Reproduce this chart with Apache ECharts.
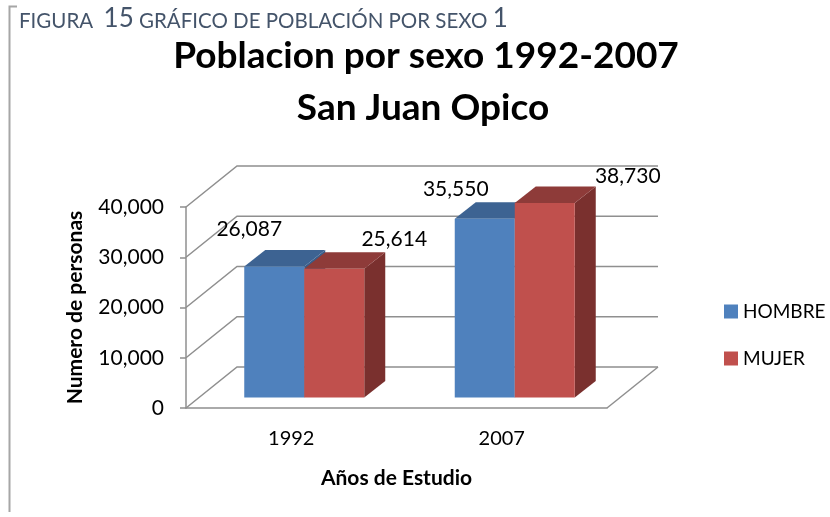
<!DOCTYPE html>
<html>
<head>
<meta charset="utf-8">
<script src="https://cdn.jsdelivr.net/npm/echarts@6/dist/echarts.min.js"></script>
<style>
html,body{margin:0;padding:0;background:#fff;}
#chart{width:830px;height:517px;}
</style>
</head>
<body>
<div id="chart"></div>
<script>
// ---- data ----
const categories = ['1992', '2007'];
const hombre = [26087, 35550];
const mujer = [25614, 38730];
const yTicks = [0, 10000, 20000, 30000, 40000];
const seriesNames = ['HOMBRE', 'MUJER'];

// ---- styles ----
const FONT = 'Lato';
const WALL = [51, -41];     // depth of the floor / back wall
const FRONT = [13, -10.5];  // bar front plane offset from front of floor
const BDEPTH = [21, -16.5]; // bar depth
const BAR_W = 60;
const colors = {
  HOMBRE: { front: '#4F81BD', top: '#3D6392', side: '#385D8A' },
  MUJER: { front: '#C0504D', top: '#8E3B39', side: '#7A302E' }
};
const labelOffsets = {
  HOMBRE: [[-25, -37], [-29, -30]],
  MUJER: [[60, -30], [83, -27]]
};
const fmt = v => v.toLocaleString('en-US');

function barRenderer(name, shift) {
  return function (params, api) {
    const i = api.value(0), v = api.value(1);
    const base = api.coord([i, 0]);
    const top = api.coord([i, v]);
    const x0 = base[0] + shift + FRONT[0];
    const x1 = x0 + BAR_W;
    const yb = base[1] + FRONT[1];
    const yt = top[1] + FRONT[1];
    const c = colors[name];
    const off = labelOffsets[name][params.dataIndex];
    return {
      type: 'group',
      children: [
        { type: 'polygon', shape: { points: [[x1, yt], [x1 + BDEPTH[0], yt + BDEPTH[1]], [x1 + BDEPTH[0], yb + BDEPTH[1]], [x1, yb]] }, style: { fill: c.side } },
        { type: 'polygon', shape: { points: [[x0, yt], [x1, yt], [x1 + BDEPTH[0], yt + BDEPTH[1]], [x0 + BDEPTH[0], yt + BDEPTH[1]]] }, style: { fill: c.top } },
        { type: 'rect', shape: { x: x0, y: yt, width: BAR_W, height: yb - yt }, style: { fill: c.front } },
        { type: 'text', x: (x0 + x1) / 2 + off[0], y: yt + off[1], style: { text: fmt(v), fill: '#000', font: '21px ' + FONT, align: 'center', verticalAlign: 'middle' } }
      ]
    };
  };
}

function wallRenderer(params, api) {
  const v = api.value(0);
  const cs = params.coordSys;
  const p = api.coord([0, v]);
  const xl = cs.x, xr = cs.x + cs.width, y = p[1];
  const ls = { stroke: '#8f8f8f', lineWidth: 1.5, fill: null };
  const children = [
    { type: 'polyline', shape: { points: [[xl, y], [xl + WALL[0], y + WALL[1]], [xr + WALL[0], y + WALL[1]]] }, style: ls }
  ];
  if (v === 0) {
    children.push({ type: 'line', shape: { x1: xr, y1: y, x2: xr + WALL[0], y2: y + WALL[1] }, style: ls });
  }
  return { type: 'group', children: children };
}

const chart = echarts.init(document.getElementById('chart'), null, { renderer: 'canvas' });
chart.setOption({
  animation: false,
  backgroundColor: '#fff',
  title: [
    { text: 'Poblacion por sexo 1992-2007', left: 421, top: 33, textAlign: 'center', textStyle: { fontFamily: FONT, fontWeight: 'bold', fontSize: 37, color: '#000' } },
    { text: 'San Juan Opico', left: 418, top: 85, textAlign: 'center', textStyle: { fontFamily: FONT, fontWeight: 'bold', fontSize: 37, color: '#000' } }
  ],
  graphic: [
    { type: 'polyline', shape: { points: [[17, 6.5], [9.5, 6.5], [9.5, 512]] }, style: { stroke: '#a6a6a6', lineWidth: 2, fill: null } },
    { type: 'text', left: 19, top: 6, style: {
      text: '{a|FIGURA  }{b|15}{a| GRÁFICO DE POBLACIÓN POR SEXO }{b|1}',
      rich: {
        a: { fontFamily: FONT, fontSize: 20.5, fill: '#44546A', color: '#44546A', verticalAlign: 'bottom' },
        b: { fontFamily: FONT, fontSize: 26, fill: '#44546A', color: '#44546A', verticalAlign: 'bottom' }
      }
    } }
  ],
  legend: {
    data: seriesNames,
    orient: 'vertical',
    left: 719,
    top: 297,
    itemWidth: 14,
    itemHeight: 14,
    itemGap: 28,
    icon: 'rect',
    textStyle: { fontFamily: FONT, fontSize: 19, color: '#000' }
  },
  grid: { left: 186, top: 207, width: 421, height: 201 },
  xAxis: {
    type: 'category',
    data: categories,
    axisLine: { lineStyle: { color: '#8f8f8f', width: 1.5 } },
    axisTick: { show: false },
    axisLabel: { fontFamily: FONT, fontSize: 20, color: '#000', margin: 21 },
    name: 'Años de Estudio',
    nameLocation: 'middle',
    nameGap: 60,
    nameTextStyle: { fontFamily: FONT, fontSize: 21, fontWeight: 'bold', color: '#000' }
  },
  yAxis: {
    type: 'value',
    min: 0,
    max: 40000,
    interval: 10000,
    axisLine: { show: true, lineStyle: { color: '#8f8f8f', width: 1.5 } },
    axisTick: { show: true, length: 6, lineStyle: { color: '#8f8f8f', width: 1.5 } },
    splitLine: { show: false },
    axisLabel: { fontFamily: FONT, fontSize: 21, color: '#000', margin: 22, formatter: fmt },
    name: 'Numero de personas',
    nameLocation: 'middle',
    nameGap: 100,
    nameRotate: 90,
    nameTextStyle: { fontFamily: FONT, fontSize: 21, fontWeight: 'bold', color: '#000' }
  },
  series: [
    { type: 'custom', name: 'walls', z: 1, silent: true, data: yTicks.map(v => [v]), renderItem: wallRenderer },
    { type: 'custom', name: 'HOMBRE', z: 2, color: colors.HOMBRE.front, itemStyle: { color: colors.HOMBRE.front }, data: hombre.map((v, i) => [i, v]), renderItem: barRenderer('HOMBRE', -BAR_W) },
    { type: 'custom', name: 'MUJER', z: 3, color: colors.MUJER.front, itemStyle: { color: colors.MUJER.front }, data: mujer.map((v, i) => [i, v]), renderItem: barRenderer('MUJER', 0) }
  ]
});
</script>
</body>
</html>
